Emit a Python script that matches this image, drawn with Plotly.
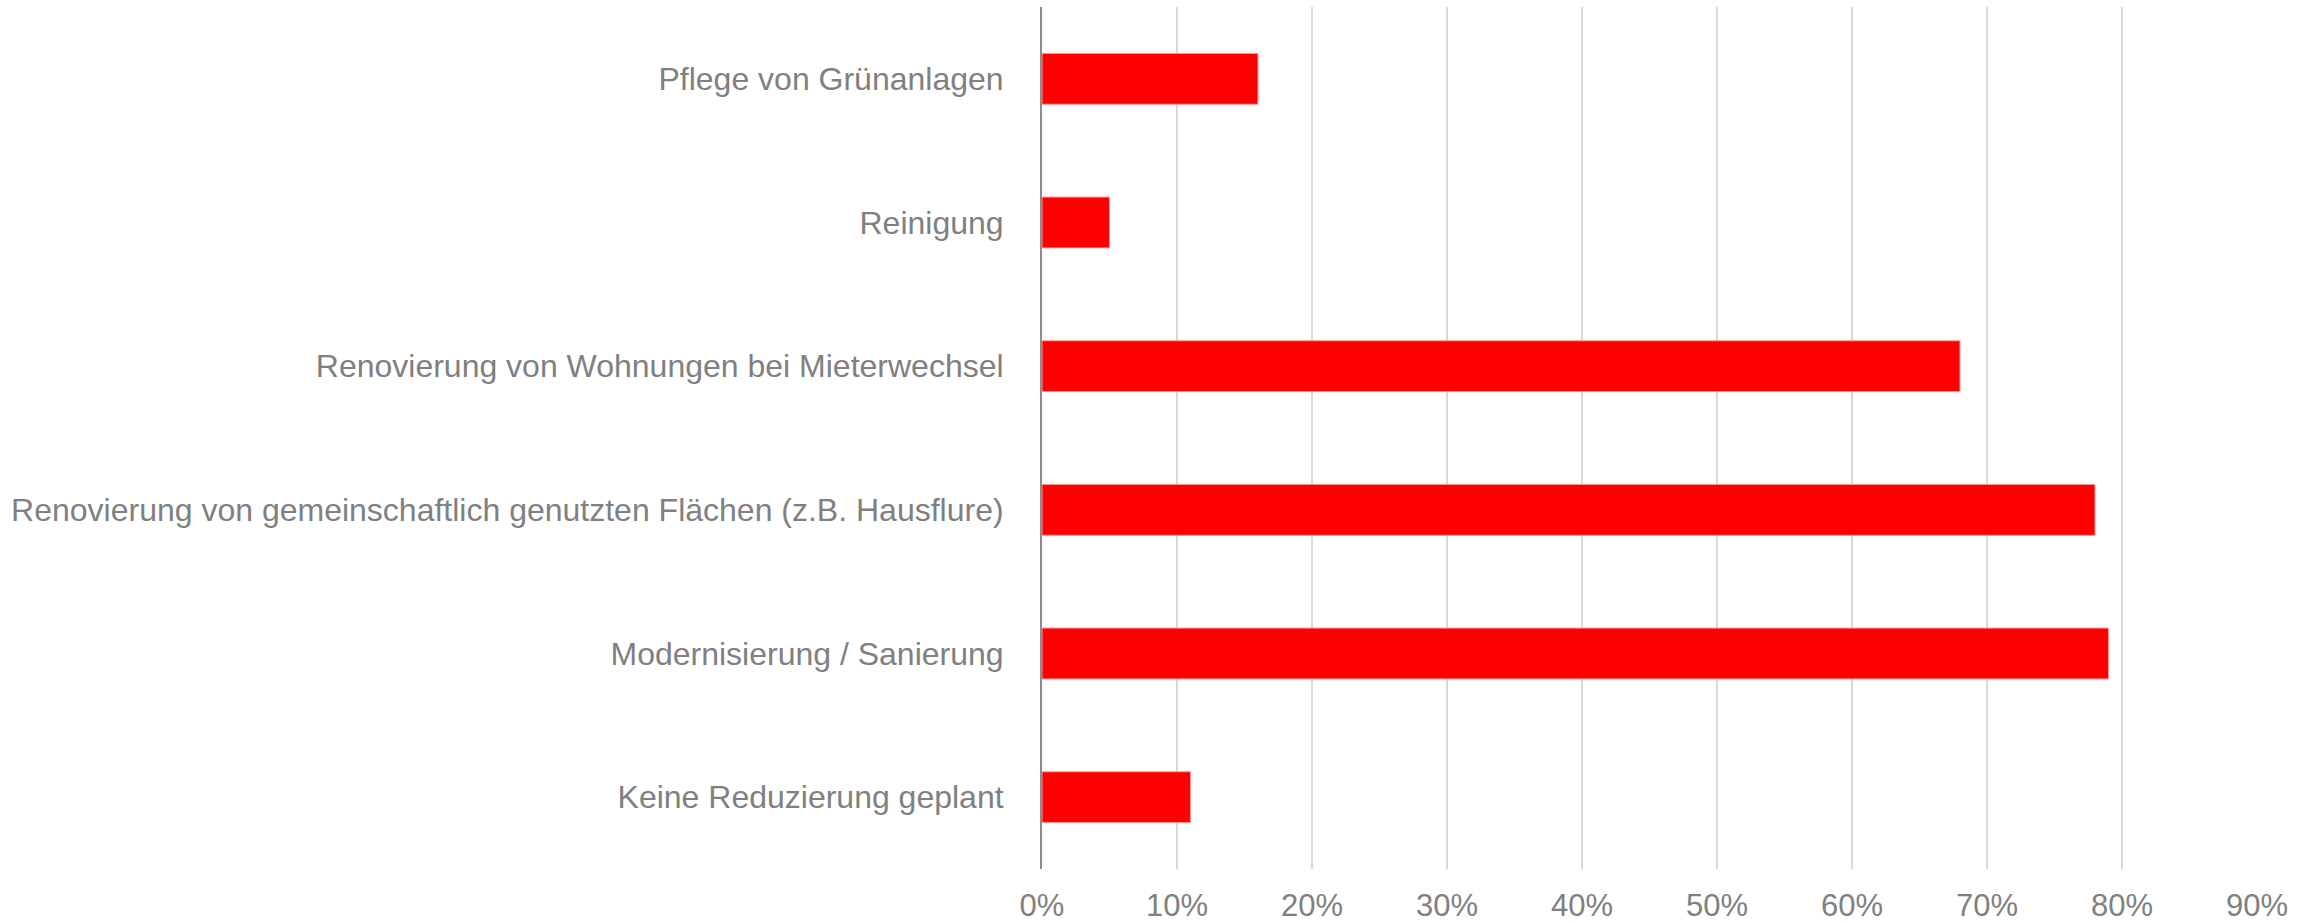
import plotly.graph_objects as go

categories = [
    "Keine Reduzierung geplant",
    "Modernisierung / Sanierung",
    "Renovierung von gemeinschaftlich genutzten Flächen (z.B. Hausflure)",
    "Renovierung von Wohnungen bei Mieterwechsel",
    "Reinigung",
    "Pflege von Grünanlagen",
]
values = [0.11, 0.79, 0.78, 0.68, 0.05, 0.16]
tick_vals = [0, 0.1, 0.2, 0.3, 0.4, 0.5, 0.6, 0.7, 0.8, 0.9]
tick_text = ["0%", "10%", "20%", "30%", "40%", "50%", "60%", "70%", "80%", "90%"]

fig = go.Figure()
fig.add_trace(go.Bar(
    x=values,
    y=categories,
    orientation="h",
    marker=dict(color="#ff0000", line=dict(color="#ff9a9a", width=1)),
    hoverinfo="x+y",
))

fig.update_layout(
    width=2316,
    height=923,
    margin=dict(l=1042, r=59, t=7, b=54),
    paper_bgcolor="white",
    plot_bgcolor="white",
    bargap=0.646,
    showlegend=False,
    font=dict(family="Liberation Sans, Arial, sans-serif", size=32, color="#808080"),
)
fig.update_xaxes(
    range=[0, 0.9],
    tickvals=tick_vals,
    ticktext=tick_text,
    showgrid=True,
    gridcolor="#d9d9d9",
    gridwidth=2,
    zeroline=False,
    showline=False,
    ticks="",
    ticklabelstandoff=15,
    automargin=False,
    tickfont=dict(size=31, color="#808080"),
)
fig.update_yaxes(
    showgrid=False,
    showline=True,
    linecolor="#8c8c8c",
    linewidth=2,
    ticks="",
    ticklabelstandoff=30,
    automargin=False,
    tickfont=dict(size=32, color="#808080"),
)

# page body margin would shift the fixed-size figure
fig.write_html(
    "out.html",
    config={"displayModeBar": False},
    post_script="document.body.style.margin='0';",
)
